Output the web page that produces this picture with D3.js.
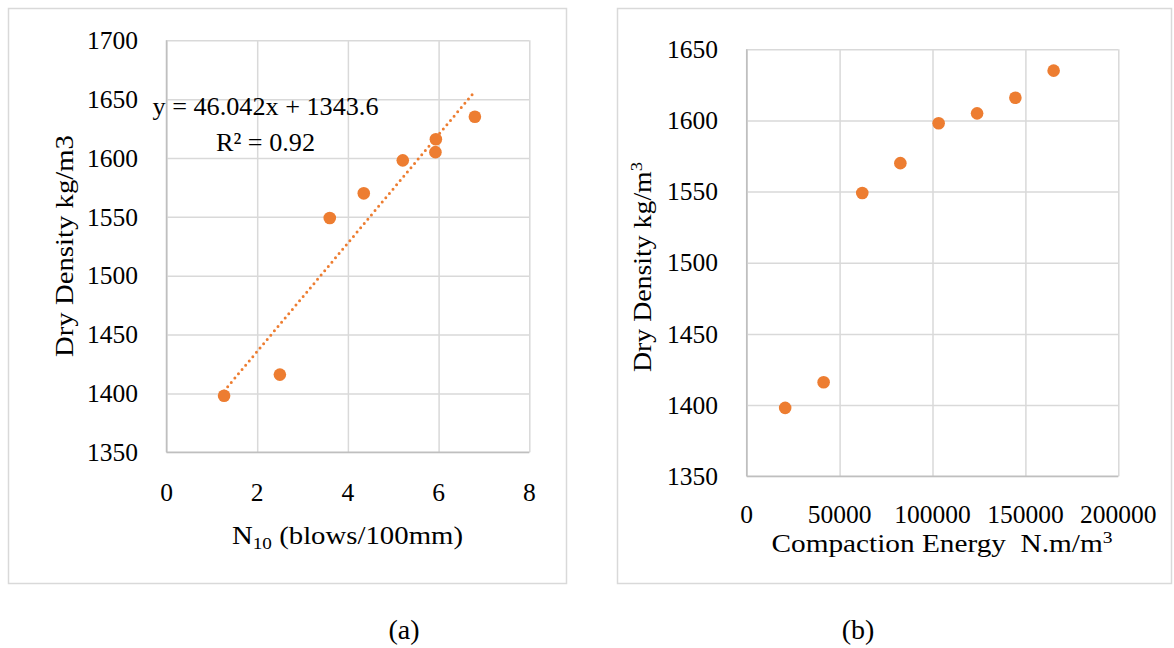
<!DOCTYPE html>
<html><head><meta charset="utf-8">
<script src="https://cdn.jsdelivr.net/npm/d3@7"></script>
<style>
html,body{margin:0;padding:0;background:#fff;}
svg text{font-family:"Liberation Serif","Times New Roman",serif;fill:#000;}
</style></head>
<body>
<svg id="c" width="1174" height="648"></svg>
<script>
// ---- data ----
const n10 = [1.27, 2.50, 3.60, 4.35, 5.21, 5.93, 5.94, 6.80];
const densityA = [1398, 1416, 1549, 1570, 1598, 1605, 1616, 1635];
const energy = [20700, 41400, 62200, 82700, 103300, 124000, 144600, 165200];
const densityB = [1398, 1416, 1549, 1570, 1598, 1605, 1616, 1635];
const trendSlope = 46.042, trendIntercept = 1343.6;
const trendLabel = "y = 46.042x + 1343.6";
const r2Label = "R² = 0.92";
const xTicksA = [0, 2, 4, 6, 8];
const yTicksA = [1350, 1400, 1450, 1500, 1550, 1600, 1650, 1700];
const xTicksB = [0, 50000, 100000, 150000, 200000];
const yTicksB = [1350, 1400, 1450, 1500, 1550, 1600, 1650];

const ORANGE = "#ED7D31", GRID = "#d9d9d9", AXIS = "#bfbfbf";
const svg = d3.select("#c");
const FS = 25.5;

// outer frames
svg.append("rect").attr("x", 8.5).attr("y", 8.5).attr("width", 558).attr("height", 575)
  .attr("fill", "#fff").attr("stroke", GRID).attr("stroke-width", 1.5);
svg.append("rect").attr("x", 617.5).attr("y", 8.5).attr("width", 554).attr("height", 575)
  .attr("fill", "#fff").attr("stroke", GRID).attr("stroke-width", 1.5);

function panel(o) {
  const x = d3.scaleLinear().domain(o.xd).range(o.xr);
  const y = d3.scaleLinear().domain(o.yd).range(o.yr);
  const g = svg.append("g");
  // grid
  g.append("g").attr("transform", `translate(0,${o.yr[0]})`)
    .call(d3.axisBottom(x).tickValues(o.xt).tickSize(-(o.yr[0] - o.yr[1])).tickFormat(""))
    .call(s => s.select(".domain").remove())
    .call(s => s.selectAll("line").attr("stroke", GRID).attr("stroke-width", 1.5));
  g.append("g").attr("transform", `translate(${o.xr[0]},0)`)
    .call(d3.axisLeft(y).tickValues(o.yt).tickSize(-(o.xr[1] - o.xr[0])).tickFormat(""))
    .call(s => s.select(".domain").remove())
    .call(s => s.selectAll("line").attr("stroke", GRID).attr("stroke-width", 1.5));
  // axis line
  g.append("line").attr("x1", o.xr[0]).attr("x2", o.xr[0]).attr("y1", o.yr[0]).attr("y2", o.yr[1])
    .attr("stroke", AXIS).attr("stroke-width", 1.5);
  g.append("line").attr("x1", o.xr[0]).attr("x2", o.xr[1]).attr("y1", o.yr[0]).attr("y2", o.yr[0])
    .attr("stroke", AXIS).attr("stroke-width", 1.5);
  // tick labels
  g.selectAll(".yl").data(o.yt).join("text")
    .attr("x", o.ylx).attr("y", d => y(d)).attr("dy", "0.34em")
    .attr("text-anchor", "end").attr("font-size", FS).text(d => d);
  g.selectAll(".xl").data(o.xt).join("text")
    .attr("x", d => x(d)).attr("y", o.xly)
    .attr("text-anchor", "middle").attr("font-size", FS).text(d => d);
  return {x, y, g};
}

// ---- panel (a) ----
const A = panel({xd: [0, 8], xr: [166.5, 529.3], yd: [1350, 1700], yr: [452.3, 40.3],
  xt: xTicksA, yt: yTicksA, ylx: 138, xly: 501});
const xExt = d3.extent(n10);
A.g.append("path")
  .attr("d", d3.line()([[A.x(xExt[0]), A.y(trendSlope * xExt[0] + trendIntercept)],
                        [A.x(xExt[1]), A.y(trendSlope * xExt[1] + trendIntercept)]]))
  .attr("stroke", ORANGE).attr("stroke-width", 3).attr("stroke-linecap", "round")
  .attr("stroke-dasharray", "0 5.6").attr("fill", "none");
A.g.selectAll("circle").data(n10).join("circle")
  .attr("cx", d => A.x(d)).attr("cy", (d, i) => A.y(densityA[i])).attr("r", 6.3).attr("fill", ORANGE);
A.g.append("text").attr("x", 265.5).attr("y", 115).attr("text-anchor", "middle")
  .attr("font-size", 26).attr("textLength", 226).attr("lengthAdjust", "spacingAndGlyphs").text(trendLabel);
A.g.append("text").attr("x", 265.5).attr("y", 150.5).attr("text-anchor", "middle")
  .attr("font-size", 26).attr("textLength", 99).attr("lengthAdjust", "spacingAndGlyphs").text(r2Label);
A.g.append("text").attr("transform", "translate(73,246) rotate(-90)").attr("text-anchor", "middle")
  .attr("font-size", FS).attr("textLength", 222).attr("lengthAdjust", "spacingAndGlyphs")
  .text("Dry Density kg/m3");
const xtA = A.g.append("text").attr("x", 347.5).attr("y", 544).attr("text-anchor", "middle")
  .attr("font-size", FS).attr("textLength", 231).attr("lengthAdjust", "spacingAndGlyphs");
xtA.append("tspan").text("N");
xtA.append("tspan").attr("font-size", 17).attr("dy", 5).text("10");
xtA.append("tspan").attr("dy", -5).text(" (blows/100mm)");

// ---- panel (b) ----
const B = panel({xd: [0, 200000], xr: [746.7, 1118.3], yd: [1350, 1650], yr: [476.2, 49.3],
  xt: xTicksB, yt: yTicksB, ylx: 718, xly: 523});
B.g.selectAll("circle").data(energy).join("circle")
  .attr("cx", d => B.x(d)).attr("cy", (d, i) => B.y(densityB[i])).attr("r", 6.3).attr("fill", ORANGE);
const ytB = B.g.append("text").attr("transform", "translate(651,267) rotate(-90)").attr("text-anchor", "middle")
  .attr("font-size", FS).attr("textLength", 210).attr("lengthAdjust", "spacingAndGlyphs");
ytB.append("tspan").text("Dry Density kg/m");
ytB.append("tspan").attr("font-size", 17).attr("dy", -9).text("3");
const xtB = B.g.append("text").attr("x", 942).attr("y", 552).attr("text-anchor", "middle")
  .attr("font-size", FS).attr("textLength", 341).attr("lengthAdjust", "spacingAndGlyphs")
  .attr("xml:space", "preserve");
xtB.append("tspan").text("Compaction Energy\u00A0 N.m/m");
xtB.append("tspan").attr("font-size", 17).attr("dy", -9).text("3");

// captions
svg.append("text").attr("x", 404).attr("y", 639).attr("text-anchor", "middle").attr("font-size", 28).text("(a)");
svg.append("text").attr("x", 858).attr("y", 639).attr("text-anchor", "middle").attr("font-size", 28).text("(b)");
</script>
</body></html>
